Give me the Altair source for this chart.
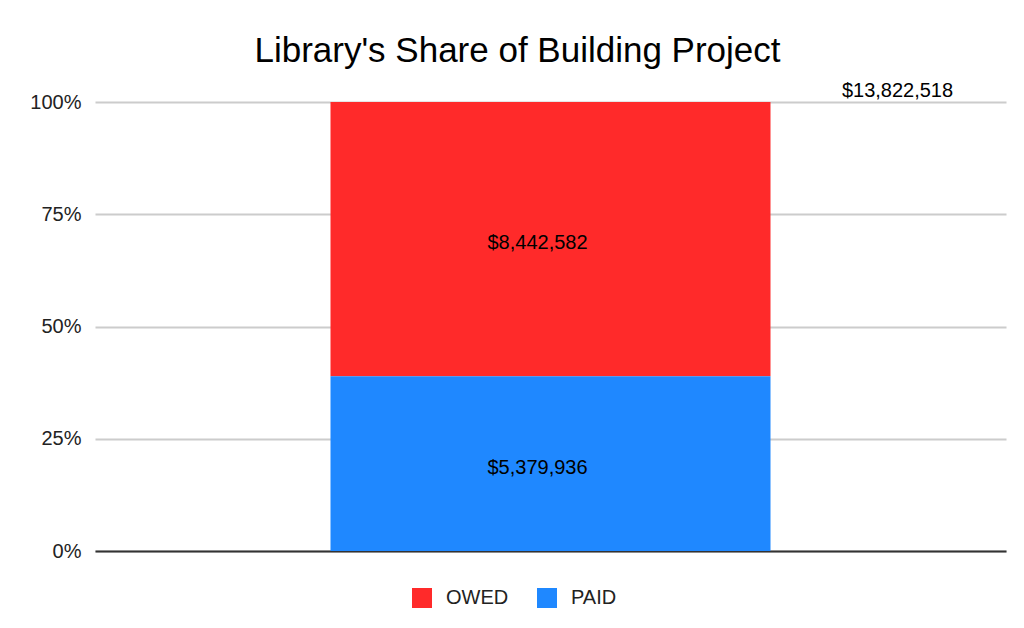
import altair as alt
import pandas as pd

category = ["Library"]
statuses = ["OWED", "PAID"]
amounts = [8442582, 5379936]
stack_order = [1, 0]
colors = ["#FF2A2A", "#1F88FF"]

df = pd.DataFrame({
    "cat": category * len(statuses),
    "status": statuses,
    "amount": amounts,
    "order": stack_order,
})

FONT = "Liberation Sans"

base = alt.Chart(df)

x_enc = alt.X("cat:N", title=None,
              axis=alt.Axis(labels=False, ticks=False, domain=True,
                            domainColor="#333333", domainWidth=2, grid=False))

bars = base.mark_bar(size=440).encode(
    x=x_enc,
    y=alt.Y("amount:Q", stack="normalize", title=None,
            scale=alt.Scale(domain=[0, 1]),
            axis=alt.Axis(format="%", values=[0, 0.25, 0.5, 0.75, 1],
                          domain=False, ticks=False, labelPadding=14,
                          labelFont=FONT, labelFontSize=20, labelColor="#222222",
                          gridColor="#cccccc", gridWidth=2)),
    color=alt.Color("status:N", title=None,
                    scale=alt.Scale(domain=statuses, range=colors),
                    legend=alt.Legend(orient="none", direction="horizontal",
                                      legendX=317, legendY=486,
                                      symbolType="square", symbolSize=400,
                                      symbolStrokeWidth=0, symbolOpacity=1,
                                      labelFont=FONT, labelFontSize=20,
                                      labelColor="#222222", labelOffset=14,
                                      columnPadding=28, padding=0)),
    order=alt.Order("order:Q"),
)

labels = base.transform_joinaggregate(
    total="sum(amount)"
).transform_window(
    cum="sum(amount)", sort=[alt.SortField("order")], frame=[None, 0]
).transform_calculate(
    mid="(datum.cum - datum.amount / 2) / datum.total",
    label="format(datum.amount, '$,.0f')",
).mark_text(font=FONT, fontSize=20, color="#000000", dx=-13, dy=4).encode(
    x=alt.X("cat:N"),
    y=alt.Y("mid:Q"),
    text="label:N",
)

total_label = base.transform_aggregate(
    total="sum(amount)", groupby=["cat"]
).transform_calculate(
    label="format(datum.total, '$,.0f')",
    top="datum.total / datum.total",
).mark_text(font=FONT, fontSize=20, color="#000000", dx=347, dy=-11).encode(
    x=alt.X("cat:N"),
    y=alt.Y("top:Q"),
    text="label:N",
)

chart = alt.layer(bars, labels, total_label).properties(
    width=911,
    height=449,
    background="white",
    title=alt.TitleParams("Library's Share of Building Project", font=FONT,
                          fontSize=35, fontWeight="normal", color="#000000",
                          anchor="middle", dx=-33, offset=12),
    autosize=alt.AutoSizeParams(type="none"),
    padding={"left": 87, "top": 94, "right": 10, "bottom": 70},
).configure_view(stroke=None)

chart.save("out.html", embed_options={"renderer": "svg", "actions": False})
